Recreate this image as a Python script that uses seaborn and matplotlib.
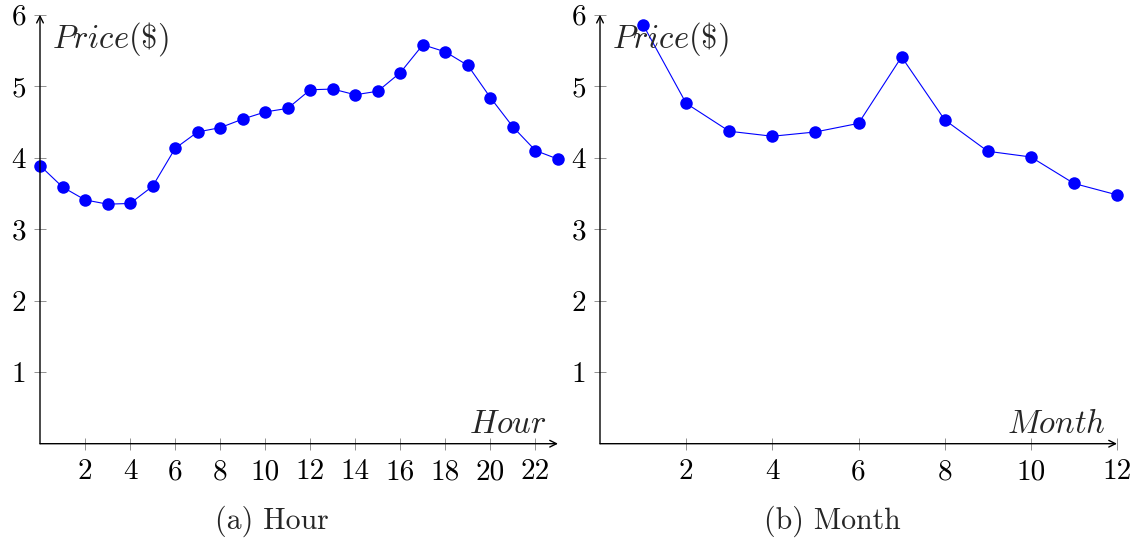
import matplotlib
matplotlib.use("Agg")
import matplotlib.pyplot as plt
import seaborn as sns
import pandas as pd

hours = list(range(24))
hour_price = [3.89, 3.59, 3.41, 3.35, 3.36, 3.60, 4.13, 4.36, 4.42, 4.54, 4.64, 4.69,
              4.95, 4.96, 4.88, 4.93, 5.19, 5.58, 5.48, 5.29, 4.84, 4.43, 4.10, 3.98]
months = list(range(1, 13))
month_price = [5.86, 4.76, 4.37, 4.30, 4.36, 4.48, 5.41, 4.53, 4.09, 4.01, 3.64, 3.48]

hour_ticks = list(range(2, 23, 2))
month_ticks = list(range(2, 13, 2))
y_ticks = [1, 2, 3, 4, 5, 6]

sns.set_theme(style="white")
plt.rcParams["font.family"] = ["cmr10", "DejaVu Serif"]
plt.rcParams["mathtext.fontset"] = "cm"
plt.rcParams["axes.unicode_minus"] = False
plt.rcParams["axes.formatter.use_mathtext"] = True

FS = 21
LFS = 23.5
fig = plt.figure(figsize=(11.41, 5.45), dpi=100)
ax1 = fig.add_axes([40 / 1141, 1 - 443.7 / 545, 518 / 1141, 429 / 545])
ax2 = fig.add_axes([600 / 1141, 1 - 443.7 / 545, 517 / 1141, 429 / 545])

df_h = pd.DataFrame({"Hour": hours, "Price": hour_price})
df_m = pd.DataFrame({"Month": months, "Price": month_price})

for ax, df, xcol, xmax, xticks, xlab in [
    (ax1, df_h, "Hour", 23, hour_ticks, r"$Hour$"),
    (ax2, df_m, "Month", 12, month_ticks, r"$Month$"),
]:
    sns.lineplot(data=df, x=xcol, y="Price", ax=ax, color="#0000ff", marker="o",
                 markersize=9, markeredgewidth=0, linewidth=0.8, clip_on=False)
    ax.set_xlim(0, xmax)
    ax.set_ylim(0, 6)
    ax.set_xticks(xticks)
    ax.set_yticks(y_ticks)
    ax.set_xticklabels([str(t) for t in xticks])
    ax.set_yticklabels([str(t) for t in y_ticks])
    ax.set_xlabel("")
    ax.set_ylabel("")
    for s in ax.spines.values():
        s.set_visible(False)
    ax.tick_params(axis="both", direction="inout", length=8, width=0.6,
                   color="#808080", labelcolor="black", labelsize=FS,
                   bottom=True, left=True)
    ax.tick_params(axis="x", pad=7)
    ax.tick_params(axis="y", pad=6)
    ax.annotate("", xy=(1, 0), xytext=(0, 0), xycoords="axes fraction",
                textcoords="axes fraction",
                arrowprops=dict(arrowstyle="->", lw=1.0, color="black",
                                shrinkA=0, shrinkB=0, mutation_scale=12))
    ax.annotate("", xy=(0, 1), xytext=(0, 0), xycoords="axes fraction",
                textcoords="axes fraction",
                arrowprops=dict(arrowstyle="->", lw=1.0, color="black",
                                shrinkA=0, shrinkB=0, mutation_scale=12))
    ax.text(0.023, 0.923, r"$Price(\$)$", transform=ax.transAxes,
            ha="left", va="baseline", fontsize=LFS)
    ax.text(0.978, 0.025, xlab, transform=ax.transAxes,
            ha="right", va="baseline", fontsize=LFS)

fig.text(272 / 1141, 1 - 521 / 545, "(a) Hour", ha="center", va="center", fontsize=21.5)
fig.text(832 / 1141, 1 - 521 / 545, "(b) Month", ha="center", va="center", fontsize=21.5)

fig.savefig("out.png", dpi=100)
